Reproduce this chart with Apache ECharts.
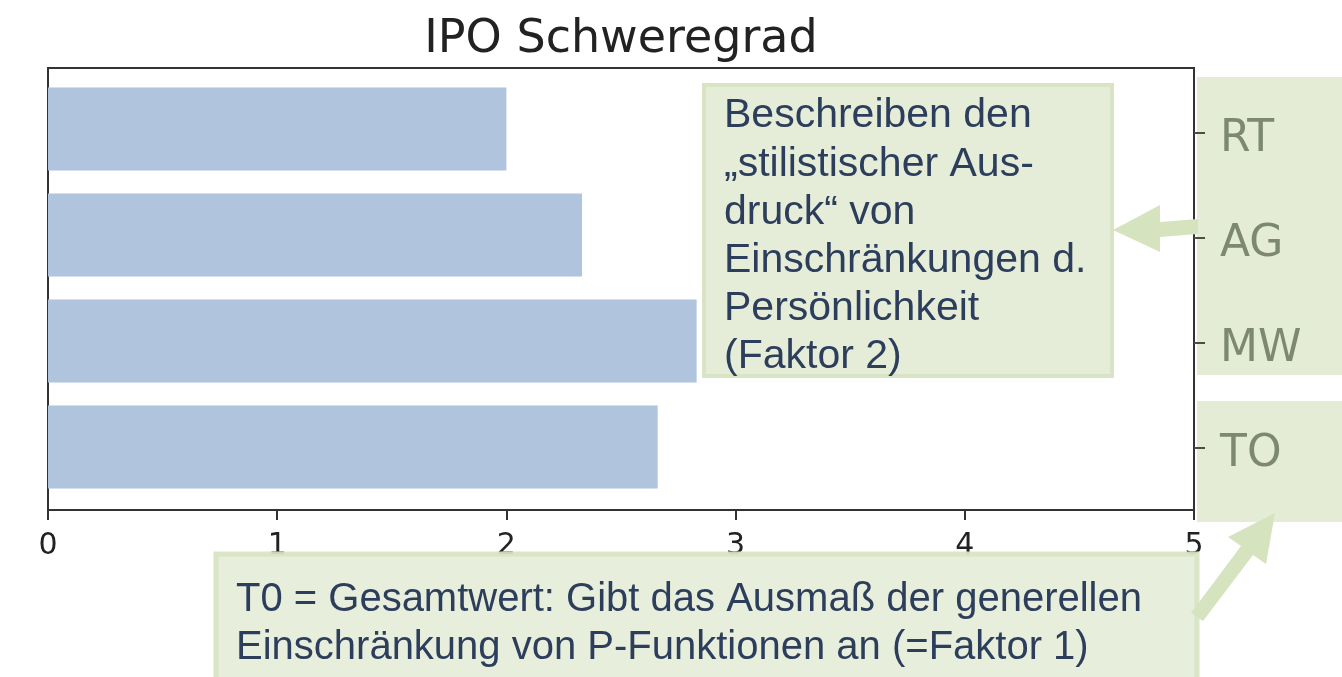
<!DOCTYPE html>
<html>
<head>
<meta charset="utf-8">
<script src="https://cdn.jsdelivr.net/npm/echarts@6/dist/echarts.min.js"></script>
<style>
  html, body { margin: 0; padding: 0; background: #fff; }
  #chart { width: 1342px; height: 677px; }
</style>
</head>
<body>
<div id="chart"></div>
<script>
// Daten
var categories = ['RT', 'AG', 'MW', 'TO'];
var values = [2.0, 2.33, 2.83, 2.66];
var xTicks = [0, 1, 2, 3, 4, 5];

var noteRight = 'Beschreiben den\n\u201estilistischer Aus-\ndruck\u201c von\nEinschränkungen d.\nPersönlichkeit\n(Faktor 2)';
var noteBottom = 'T0 = Gesamtwert: Gibt das Ausmaß der generellen\nEinschränkung von P-Funktionen an (=Faktor 1)';

var chartDom = document.getElementById('chart');
var myChart = echarts.init(chartDom);
var option;

var boxFill = '#e5edd8';
var boxLine = '#d8e4c3';
var arrowCol = '#d6e3bf';

option = {
  backgroundColor: '#fff',
  animation: false,
  title: {
    text: 'IPO Schweregrad',
    left: 616,
    textAlign: 'center',
    top: 12,
    textStyle: { fontFamily: 'DejaVu Sans', fontSize: 46, fontWeight: 'normal', color: '#222' }
  },
  grid: [
    // Rahmen
    { left: 48, top: 68, width: 1146, height: 442, show: true, borderColor: '#333', borderWidth: 2, backgroundColor: 'transparent' },
    // Balken
    { left: 48, top: 76, width: 1146, height: 424 },
    // Beschriftung rechts
    { left: 48, top: 80, width: 1146, height: 420 }
  ],
  xAxis: [
    {
      gridIndex: 0, type: 'value', min: xTicks[0], max: xTicks[xTicks.length - 1], interval: 1,
      axisLine: { show: true, lineStyle: { color: '#333', width: 2 } },
      axisTick: { show: true, length: 10, lineStyle: { color: '#333', width: 2 } },
      axisLabel: {
        margin: 21,
        formatter: '{v|{value}}',
        rich: { v: { fontFamily: 'DejaVu Sans', fontSize: 30, color: '#222' } }
      },
      splitLine: { show: false }
    },
    { gridIndex: 1, type: 'value', min: 0, max: 5, show: false },
    { gridIndex: 2, type: 'value', min: 0, max: 5, show: false }
  ],
  yAxis: [
    { gridIndex: 0, type: 'value', show: false },
    { gridIndex: 1, type: 'category', inverse: true, data: categories, show: false },
    {
      gridIndex: 2, type: 'category', position: 'right', inverse: true, data: categories, z: 5,
      axisLine: { show: true, onZero: false, lineStyle: { color: 'rgba(0,0,0,0)' } },
      axisTick: { show: true, alignWithLabel: true, length: 11, lineStyle: { color: '#4a4f45', width: 2 } },
      axisLabel: {
        margin: 26,
        formatter: '{v|{value}}',
        rich: { v: { fontFamily: 'DejaVu Sans', fontSize: 44, color: '#7d8873', padding: [14, 0, 0, 0] } }
      }
    }
  ],
  series: [
    {
      type: 'bar',
      xAxisIndex: 1,
      yAxisIndex: 1,
      data: values,
      barWidth: 83,
      itemStyle: { color: '#b0c4de' }
    }
  ],
  graphic: [
    // Kästen rechts hinter den Beschriftungen
    { type: 'rect', z: -10, shape: { x: 1197, y: 77, width: 150, height: 298 }, style: { fill: '#e4ecd6' } },
    { type: 'rect', z: -10, shape: { x: 1197, y: 401, width: 150, height: 121 }, style: { fill: '#e4ecd6' } },
    // Kasten Faktor 2
    { type: 'rect', z: 100, shape: { x: 704, y: 85, width: 408, height: 291 }, style: { fill: boxFill, stroke: boxLine, lineWidth: 4 } },
    {
      type: 'text', z: 101, x: 724, y: 92,
      style: { text: noteRight, fill: '#2d3e5c', font: '41px "Liberation Sans", Arial, sans-serif', lineHeight: 48.2, verticalAlign: 'top' }
    },
    // Kasten Faktor 1
    { type: 'rect', z: 100, shape: { x: 216, y: 554, width: 981, height: 140 }, style: { fill: boxFill, stroke: boxLine, lineWidth: 5, opacity: 0.93 } },
    {
      type: 'text', z: 101, x: 236, y: 576,
      style: { text: noteBottom, fill: '#2d3e5c', font: '40px "Liberation Sans", Arial, sans-serif', lineHeight: 48, verticalAlign: 'top' }
    },
    // Pfeile
    {
      type: 'polygon', z: 102,
      shape: { points: [[1198, 219], [1160, 222], [1160, 205], [1113, 230], [1160, 252], [1160, 237], [1198, 234]] },
      style: { fill: arrowCol }
    },
    {
      type: 'polygon', z: 102,
      shape: { points: [[1191, 613], [1241, 546], [1228, 537], [1275, 513], [1266, 564], [1253, 555], [1203, 621]] },
      style: { fill: arrowCol }
    }
  ]
};

option && myChart.setOption(option);
</script>
</body>
</html>
